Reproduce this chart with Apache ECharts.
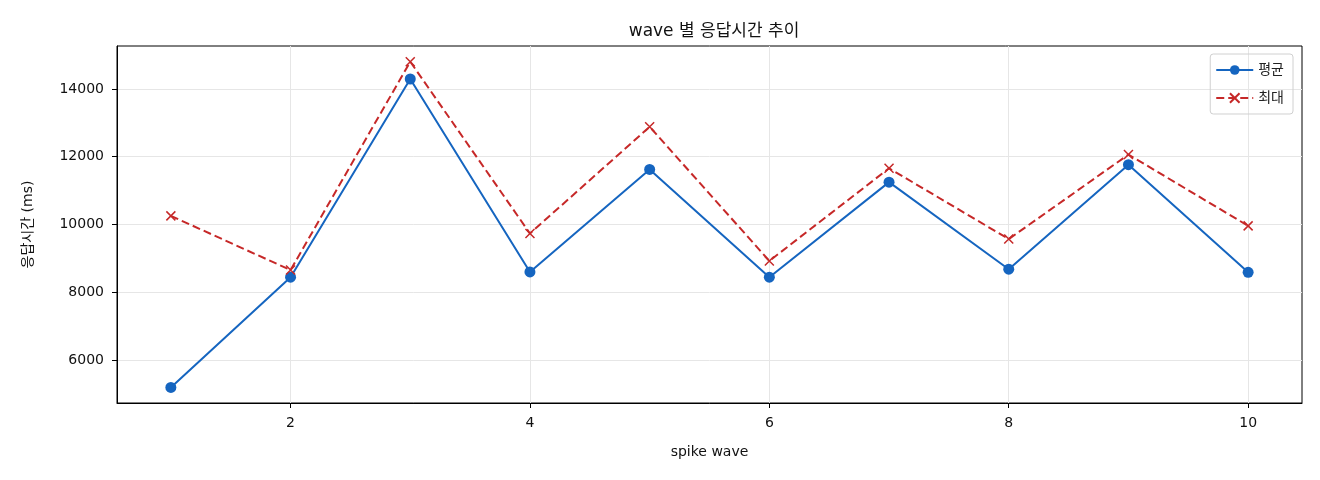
<!DOCTYPE html>
<html>
<head>
<meta charset="utf-8">
<script src="https://cdn.jsdelivr.net/npm/echarts@6/dist/echarts.min.js"></script>
<style>
  html, body { margin: 0; padding: 0; background: #fff; }
  #chart { width: 1320px; height: 480px; }
</style>
</head>
<body>
<div id="chart"></div>
<script>
// 데이터
const waves = [1, 2, 3, 4, 5, 6, 7, 8, 9, 10];
const avgMs = [5190, 8445, 14295, 8600, 11625, 8445, 11250, 8680, 11765, 8590];
const maxMs = [10255, 8655, 14805, 9735, 12885, 8925, 11660, 9570, 12065, 9960];
const xTicks = [2, 4, 6, 8, 10];
const yTicks = [6000, 8000, 10000, 12000, 14000];

const font = '"DejaVu Sans", "Noto Sans CJK KR", sans-serif';
const blue = '#1565c0';
const red = '#c62828';

let chart = echarts.init(document.getElementById('chart'));

let option = {
  backgroundColor: '#fff',
  textStyle: { fontFamily: font },
  animation: false,
  title: {
    text: 'wave 별 응답시간 추이',
    left: 709, top: 18, textAlign: 'center',
    textStyle: { fontFamily: font, fontSize: 17, fontWeight: 'normal', color: '#111' }
  },
  legend: {
    orient: 'vertical',
    right: 27, top: 54,
    itemWidth: 37, itemHeight: 12, itemGap: 14,
    padding: [9, 9, 9, 5],
    borderColor: '#d0d0d0', borderWidth: 1, borderRadius: 3,
    textStyle: { fontFamily: font, fontSize: 14, color: '#222' },
    data: ['평균', '최대']
  },
  grid: {
    left: 117, right: 18, top: 46, bottom: 77,
    show: true, borderColor: '#000', borderWidth: 1
  },
  xAxis: {
    type: 'value', min: 0.55, max: 10.45,
    name: 'spike wave', nameLocation: 'middle', nameGap: 42,
    nameTextStyle: { fontFamily: font, fontSize: 14, color: '#111' },
    axisLine: { show: true, lineStyle: { color: '#000' } },
    axisTick: { show: true, length: 5, customValues: xTicks, lineStyle: { color: '#000' } },
    axisLabel: { customValues: xTicks, fontSize: 14, color: '#111', margin: 13 },
    splitLine: { show: true, lineStyle: { color: '#e6e6e6' } }
  },
  yAxis: {
    type: 'value', min: 4731, max: 15269,
    name: '응답시간 (ms)', nameLocation: 'middle', nameGap: 82,
    nameTextStyle: { fontFamily: font, fontSize: 14, color: '#111' },
    axisLine: { show: true, lineStyle: { color: '#000' } },
    axisTick: { show: true, length: 5, customValues: yTicks, lineStyle: { color: '#000' } },
    axisLabel: {
      customValues: yTicks, fontSize: 14, color: '#111', margin: 13,
      formatter: v => String(v)
    },
    splitLine: { show: true, lineStyle: { color: '#e6e6e6' } }
  },
  series: [
    {
      name: '평균', type: 'line',
      data: waves.map((w, i) => [w, avgMs[i]]),
      symbol: 'circle', symbolSize: 11,
      lineStyle: { color: blue, width: 2 },
      itemStyle: { color: blue }
    },
    {
      name: '최대', type: 'line',
      data: waves.map((w, i) => [w, maxMs[i]]),
      symbol: 'path://M0,0L10,10M10,0L0,10', symbolSize: 9,
      lineStyle: { color: red, width: 2, type: [8, 4] },
      itemStyle: { color: red, borderColor: red, borderWidth: 1.5 }
    }
  ]
};

chart.setOption(option);
</script>
</body>
</html>
